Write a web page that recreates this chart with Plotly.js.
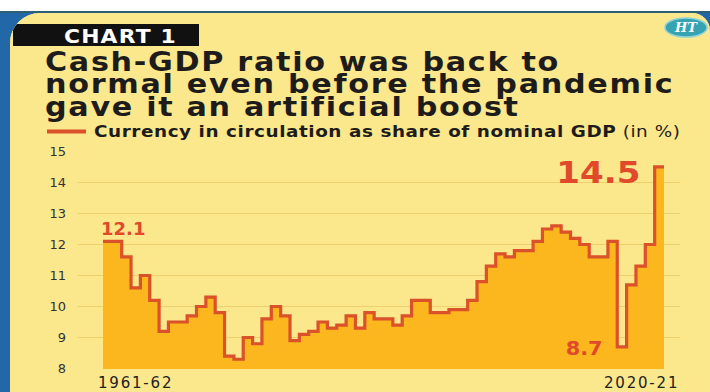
<!DOCTYPE html>
<html><head><meta charset="utf-8">
<script src="https://cdn.plot.ly/plotly-3.0.1.min.js"></script>
<style>
html,body{margin:0;padding:0;background:#ffffff;width:710px;height:392px;overflow:hidden;}
#frame{position:absolute;left:0;top:11px;width:710px;height:381px;background:#2268a8;border-top:2px solid #2c5e74;box-sizing:border-box;}
#chart{position:absolute;left:10px;top:13px;width:700px;height:379px;border-top-left-radius:30px;border-top-right-radius:18px;overflow:hidden;background:#FBE78C;}
.annotation[data-index="0"] text,.annotation[data-index="1"] text,.annotation[data-index="2"] text{letter-spacing:1.5px;transform-box:fill-box;transform-origin:left center;transform:scaleX(1.12);}
.annotation[data-index="3"] text{letter-spacing:1px;transform-box:fill-box;transform-origin:left center;transform:scaleX(1.15);}
.annotation[data-index="4"] text{letter-spacing:0.5px;transform-box:fill-box;transform-origin:left center;transform:scaleX(1.115);}
.annotation[data-index="5"] text,.annotation[data-index="6"] text{letter-spacing:1.8px;}
.annotation[data-index="8"] text,.annotation[data-index="9"] text{transform-box:fill-box;transform-origin:right center;transform:scaleX(1.1);}
</style></head><body>
<div id="frame"></div><div id="chart"></div>
<script>
// ---- data ----
const years = ['1961-62','1962-63','1963-64','1964-65','1965-66','1966-67','1967-68','1968-69','1969-70','1970-71',
  '1971-72','1972-73','1973-74','1974-75','1975-76','1976-77','1977-78','1978-79','1979-80','1980-81',
  '1981-82','1982-83','1983-84','1984-85','1985-86','1986-87','1987-88','1988-89','1989-90','1990-91',
  '1991-92','1992-93','1993-94','1994-95','1995-96','1996-97','1997-98','1998-99','1999-00','2000-01',
  '2001-02','2002-03','2003-04','2004-05','2005-06','2006-07','2007-08','2008-09','2009-10','2010-11',
  '2011-12','2012-13','2013-14','2014-15','2015-16','2016-17','2017-18','2018-19','2019-20','2020-21'];
const cashGdp = [12.1,12.1,11.6,10.6,11.0,10.2,9.2,9.5,9.5,9.7,
  10.0,10.3,9.8,8.4,8.3,9.0,8.8,9.6,10.0,9.7,
  8.9,9.1,9.2,9.5,9.3,9.4,9.7,9.3,9.8,9.6,
  9.6,9.4,9.7,10.2,10.2,9.8,9.8,9.9,9.9,10.2,
  10.8,11.3,11.7,11.6,11.8,11.8,12.1,12.5,12.6,12.4,
  12.2,12.0,11.6,11.6,12.1,8.7,10.7,11.3,12.0,14.5];
const yTicks = [8,9,10,11,12,13,14,15];
const titleLines = ['Cash-GDP ratio was back to','normal even before the pandemic','gave it an artificial boost'];
const chartTag = 'CHART 1';
const seriesName = 'Currency in circulation as share of nominal GDP';
const unitNote = '(in %)';
const firstLabel = years[0], lastLabel = years[years.length-1];
const labelStart = cashGdp[0], labelMin = 8.7, labelEnd = cashGdp[cashGdp.length-1];

// ---- styles ----
const BG = '#FBE78C', FILL = '#FDB71E', LINE = '#DA512A', RED = '#E04A2A', INK = '#1d1c1a', GRID = '#EDCF6C';
const W = 700, H = 379, L = 68, R = 30, T = 138, B = 23;
const OX = 10, OY = 13;
const plotW = W - L - R, plotH = H - T - B;
const pX = px => (px - OX - L) / plotW;
const pY = py => (H - B - (py - OY)) / plotH;

const n = cashGdp.length;
const stepX = cashGdp.map((_, i) => i).concat([n]);
const stepY = cashGdp.concat([cashGdp[n - 1]]);
const iMin = cashGdp.indexOf(labelMin);

const trace = {
  x: stepX, y: stepY, type: 'scatter', mode: 'lines',
  line: {shape: 'hv', color: LINE, width: 3.2},
  fill: 'tozeroy', fillcolor: FILL, hoverinfo: 'skip', showlegend: false
};

const bold = (size, color, family) => ({family: family || 'DejaVu Sans', size: size, color: color, weight: 'bold'});

const annotations = [
  {text: titleLines[0], x: pX(43), y: pY(61.5), xref: 'paper', yref: 'paper', xanchor: 'left', yanchor: 'middle', align: 'left', showarrow: false, font: bold(27, INK)},
  {text: titleLines[1], x: pX(43), y: pY(84), xref: 'paper', yref: 'paper', xanchor: 'left', yanchor: 'middle', align: 'left', showarrow: false, font: bold(27, INK)},
  {text: titleLines[2], x: pX(43), y: pY(106.5), xref: 'paper', yref: 'paper', xanchor: 'left', yanchor: 'middle', align: 'left', showarrow: false, font: bold(27, INK)},
  {text: chartTag, x: pX(62), y: pY(35.5), xref: 'paper', yref: 'paper', xanchor: 'left', yanchor: 'middle', align: 'left', showarrow: false, font: bold(19, '#ffffff')},
  {text: '<b>' + seriesName + '</b> ' + unitNote, x: pX(92), y: pY(131.3), xref: 'paper', yref: 'paper', xanchor: 'left', yanchor: 'middle', align: 'left', showarrow: false, font: {family: 'DejaVu Sans', size: 16.5, color: INK}},
  {text: firstLabel, x: 0, xref: 'x', y: pY(382.8), yref: 'paper', xanchor: 'left', yanchor: 'middle', align: 'left', xshift: -7, showarrow: false, font: {family: 'DejaVu Sans', size: 15, color: '#222'}},
  {text: lastLabel, x: n, xref: 'x', y: pY(382.8), yref: 'paper', xanchor: 'right', yanchor: 'middle', align: 'left', xshift: 5, showarrow: false, font: {family: 'DejaVu Sans', size: 15, color: '#222'}},
  {text: labelStart.toFixed(1), x: 0, y: labelStart, xref: 'x', yref: 'y', xanchor: 'left', yanchor: 'bottom', align: 'left', xshift: -4, yshift: 0, showarrow: false, font: bold(18, RED)},
  {text: labelEnd.toFixed(1), x: n - 1, y: labelEnd, xref: 'x', yref: 'y', xanchor: 'right', yanchor: 'middle', align: 'right', xshift: -11.7, yshift: -4.7, showarrow: false, font: bold(31, RED)},
  {text: labelMin.toFixed(1), x: iMin, y: labelMin, xref: 'x', yref: 'y', xanchor: 'right', yanchor: 'middle', align: 'right', xshift: -12, yshift: -1.2, showarrow: false, font: bold(19, RED)},
  {text: 'HT', x: pX(686), y: pY(27.5), xref: 'paper', yref: 'paper', xanchor: 'center', yanchor: 'middle', showarrow: false, font: {family: 'DejaVu Serif', size: 13, color: '#ffffff', weight: 'bold', style: 'italic'}}
];

const shapes = [
  {type: 'rect', xref: 'paper', yref: 'paper', x0: pX(13), x1: pX(199), y0: pY(46), y1: pY(24), fillcolor: '#111111', line: {width: 0}},
  {type: 'line', xref: 'paper', yref: 'paper', x0: pX(47), x1: pX(86), y0: pY(131.5), y1: pY(131.5), line: {color: LINE, width: 4}},
  {type: 'circle', xref: 'paper', yref: 'paper', x0: pX(665), x1: pX(707), y0: pY(37), y1: pY(18), fillcolor: '#35a3b2', line: {color: '#8fd3d8', width: 1.5}}
];

const layout = {
  width: W, height: H,
  margin: {l: L, r: R, t: T, b: B, pad: 0},
  paper_bgcolor: BG, plot_bgcolor: BG,
  showlegend: false,
  xaxis: {range: [-2.674, 61.71], showgrid: false, zeroline: false, showticklabels: false, showline: false, ticks: '', fixedrange: true},
  yaxis: {range: [7.985, 15.015], tickvals: yTicks, ticktext: yTicks.map(String), showgrid: true, gridcolor: GRID, gridwidth: 1,
          zeroline: false, showline: false, ticks: '', ticklabelstandoff: 11,
          tickfont: {family: 'DejaVu Sans', size: 13, color: '#333333'}, fixedrange: true},
  annotations: annotations,
  shapes: shapes
};

Plotly.newPlot('chart', [trace], layout, {displayModeBar: false, staticPlot: true});
</script>
</body></html>
